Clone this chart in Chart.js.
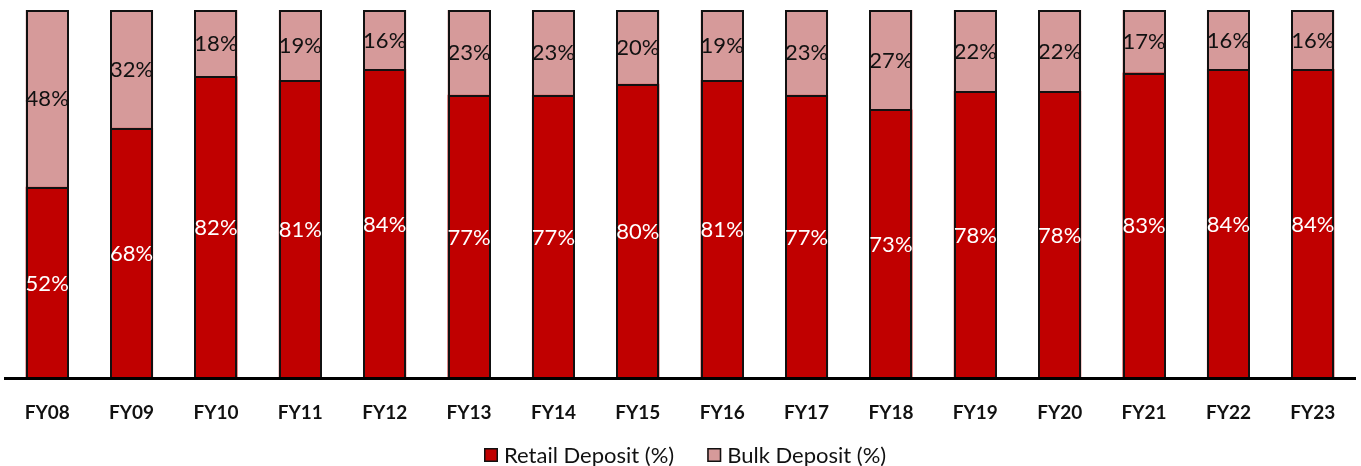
<!DOCTYPE html>
<html>
<head>
<meta charset="utf-8">
<script src="https://cdn.jsdelivr.net/npm/chart.js@4"></script>
<style>
  html, body { margin: 0; padding: 0; background: #fff; }
  #wrap { width: 1361px; height: 466px; }
</style>
</head>
<body>
<div id="wrap"><canvas id="c" width="1361" height="466"></canvas></div>
<script>
const categories = ['FY08','FY09','FY10','FY11','FY12','FY13','FY14','FY15','FY16','FY17','FY18','FY19','FY20','FY21','FY22','FY23'];
const retailDeposit = [52, 68, 82, 81, 84, 77, 77, 80, 81, 77, 73, 78, 78, 83, 84, 84];
const bulkDeposit   = [48, 32, 18, 19, 16, 23, 23, 20, 19, 23, 27, 22, 22, 17, 16, 16];

const FONT = 'Lato, "Open Sans", sans-serif';

// Crisp 2px outline around every segment, snapped to whole pixels
const segmentOutlines = {
  id: 'segmentOutlines',
  afterDatasetsDraw(chart) {
    const ctx = chart.ctx;
    ctx.save();
    ctx.strokeStyle = '#111';
    ctx.lineWidth = 2;
    chart.data.datasets.forEach((ds, di) => {
      chart.getDatasetMeta(di).data.forEach(bar => {
        const l = Math.round(bar.x - bar.width / 2) + 1;
        const r = Math.round(bar.x + bar.width / 2) - 1;
        const t = Math.round(Math.min(bar.y, bar.base)) + 1;
        const b = Math.round(Math.max(bar.y, bar.base)) + 1;
        ctx.strokeRect(l, t, r - l, b - t);
      });
    });
    ctx.restore();
  }
};

// Percent labels centred inside each stacked segment
const segmentLabels = {
  id: 'segmentLabels',
  afterDatasetsDraw(chart) {
    const ctx = chart.ctx;
    ctx.save();
    ctx.font = '22px ' + FONT;
    ctx.textAlign = 'center';
    ctx.textBaseline = 'middle';
    chart.data.datasets.forEach((ds, di) => {
      const meta = chart.getDatasetMeta(di);
      meta.data.forEach((bar, i) => {
        const top = Math.min(bar.y, bar.base);
        const bot = Math.max(bar.y, bar.base);
        ctx.fillStyle = ds.labelColor;
        ctx.fillText(ds.data[i] + '%', bar.x, (top + bot) / 2 + 1);
      });
    });
    ctx.restore();
  }
};

// Legend row under the axis: square swatch + series name
const bottomLegend = {
  id: 'bottomLegend',
  afterDraw(chart) {
    const ctx = chart.ctx;
    const dsets = chart.data.datasets;
    const box = 14, gapBox = 6, gapItem = 33;
    ctx.save();
    ctx.font = '22px ' + FONT;
    ctx.textBaseline = 'middle';
    const widths = dsets.map(d => box + gapBox + ctx.measureText(d.label).width);
    const total = widths.reduce((a, b) => a + b, 0) + gapItem * (dsets.length - 1);
    let x = Math.round(chart.width / 2 - total / 2 + 5);
    const y = 455;
    dsets.forEach((d, i) => {
      ctx.fillStyle = d.backgroundColor;
      ctx.fillRect(x, y - box / 2, box, box);
      ctx.strokeStyle = '#111';
      ctx.lineWidth = 1.5;
      ctx.strokeRect(x + 0.75, y - box / 2 + 0.75, box - 1.5, box - 1.5);
      ctx.fillStyle = '#111';
      ctx.fillText(d.label, x + box + gapBox, y + 1);
      x += widths[i] + gapItem;
    });
    ctx.restore();
  }
};

new Chart(document.getElementById('c'), {
  type: 'bar',
  data: {
    labels: categories,
    datasets: [
      {
        label: 'Retail Deposit (%)',
        data: retailDeposit,
        backgroundColor: '#C00000',
        borderWidth: 0,
        labelColor: '#ffffff',
        barPercentage: 0.51,
        categoryPercentage: 1.0
      },
      {
        label: 'Bulk Deposit (%)',
        data: bulkDeposit,
        backgroundColor: '#D69A9A',
        borderWidth: 0,
        labelColor: '#111111',
        barPercentage: 0.51,
        categoryPercentage: 1.0
      }
    ]
  },
  options: {
    responsive: false,
    animation: false,
    layout: { padding: { left: 5, right: 6, top: 10, bottom: 19 } },
    scales: {
      x: {
        stacked: true,
        grid: { display: false, drawTicks: false },
        border: { display: true, color: '#000', width: 3, z: 1 },
        ticks: {
          color: '#111',
          padding: 23,
          font: { family: FONT, size: 19, weight: 'bold' }
        }
      },
      y: {
        stacked: true,
        display: false,
        min: 0,
        max: 100
      }
    },
    plugins: {
      legend: { display: false },
      tooltip: { enabled: false }
    }
  },
  plugins: [segmentOutlines, segmentLabels, bottomLegend]
});
</script>
</body>
</html>
